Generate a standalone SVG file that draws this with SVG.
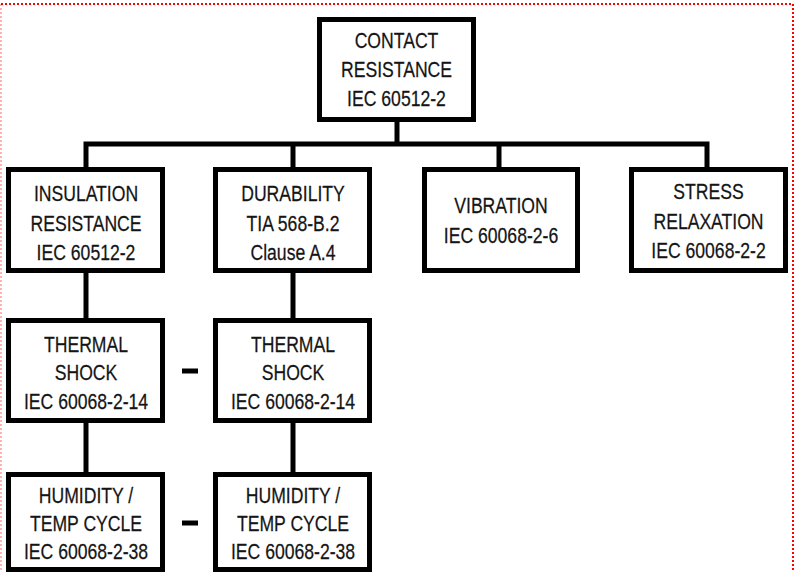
<svg xmlns="http://www.w3.org/2000/svg" width="800" height="572" viewBox="0 0 800 572">
<style>
.box{fill:#fff;stroke:#000;stroke-width:5}
.ln{stroke:#000;stroke-width:5;fill:none}
.t{font-family:"Liberation Sans",Arial,sans-serif;font-size:22px;fill:#151515;text-anchor:middle;stroke:#151515;stroke-width:0.25}
.frame{stroke:#ff0000;stroke-width:2;stroke-dasharray:2 2;fill:none}
</style>
<rect width="800" height="572" fill="#fff"/>
<g id="frame">
<line class="frame" x1="1" y1="4" x2="793" y2="4"/>
<line class="frame" x1="793" y1="4" x2="793" y2="572"/>
<line class="frame" x1="1" y1="4" x2="1" y2="572" stroke-opacity="0.3"/>
</g>
<g id="connectors">
<line class="ln" x1="397" y1="120" x2="397" y2="144"/>
<polyline class="ln" points="86,169 86,144 707,144 707,169"/>
<line class="ln" x1="293" y1="144" x2="293" y2="169"/>
<line class="ln" x1="499" y1="144" x2="499" y2="169"/>
<line class="ln" x1="86" y1="271" x2="86" y2="320"/>
<line class="ln" x1="293" y1="271" x2="293" y2="320"/>
<line class="ln" x1="86" y1="421" x2="86" y2="474"/>
<line class="ln" x1="293" y1="421" x2="293" y2="474"/>
<line class="ln" x1="182" y1="371" x2="198" y2="371"/>
<line class="ln" x1="182" y1="523" x2="198" y2="523"/>
</g>
<g id="contact">
<rect class="box" x="319.5" y="19.5" width="154" height="100"/>
<text class="t" transform="translate(396.5,48) scale(0.8,1)">CONTACT</text>
<text class="t" transform="translate(396.5,77) scale(0.8,1)">RESISTANCE</text>
<text class="t" transform="translate(396.5,106) scale(0.8,1)">IEC 60512-2</text>
</g>
<g id="insulation">
<rect class="box" x="8.5" y="169.5" width="154" height="101"/>
<text class="t" transform="translate(86,200.5) scale(0.8,1)">INSULATION</text>
<text class="t" transform="translate(86,231) scale(0.8,1)">RESISTANCE</text>
<text class="t" transform="translate(86,260) scale(0.8,1)">IEC 60512-2</text>
</g>
<g id="durability">
<rect class="box" x="215.5" y="169.5" width="154" height="101"/>
<text class="t" transform="translate(293,200.5) scale(0.8,1)">DURABILITY</text>
<text class="t" transform="translate(293,231) scale(0.8,1)">TIA 568-B.2</text>
<text class="t" transform="translate(293,260) scale(0.8,1)">Clause A.4</text>
</g>
<g id="vibration">
<rect class="box" x="424.5" y="169.5" width="153" height="101"/>
<text class="t" transform="translate(501,213) scale(0.8,1)">VIBRATION</text>
<text class="t" transform="translate(501,243) scale(0.8,1)">IEC 60068-2-6</text>
</g>
<g id="stress">
<rect class="box" x="631.5" y="169.5" width="154" height="101"/>
<text class="t" transform="translate(708.5,199) scale(0.8,1)">STRESS</text>
<text class="t" transform="translate(708.5,229) scale(0.8,1)">RELAXATION</text>
<text class="t" transform="translate(708.5,257.5) scale(0.8,1)">IEC 60068-2-2</text>
</g>
<g id="thermal1">
<rect class="box" x="8.5" y="320.5" width="154" height="100"/>
<text class="t" transform="translate(86,352) scale(0.8,1)">THERMAL</text>
<text class="t" transform="translate(86,380) scale(0.8,1)">SHOCK</text>
<text class="t" transform="translate(86,408.5) scale(0.8,1)">IEC 60068-2-14</text>
</g>
<g id="thermal2">
<rect class="box" x="215.5" y="320.5" width="154" height="100"/>
<text class="t" transform="translate(293,352) scale(0.8,1)">THERMAL</text>
<text class="t" transform="translate(293,380) scale(0.8,1)">SHOCK</text>
<text class="t" transform="translate(293,408.5) scale(0.8,1)">IEC 60068-2-14</text>
</g>
<g id="humidity1">
<rect class="box" x="8.5" y="474.5" width="154" height="95"/>
<text class="t" transform="translate(86,503) scale(0.8,1)">HUMIDITY /</text>
<text class="t" transform="translate(86,531) scale(0.8,1)">TEMP CYCLE</text>
<text class="t" transform="translate(86,559) scale(0.8,1)">IEC 60068-2-38</text>
</g>
<g id="humidity2">
<rect class="box" x="215.5" y="474.5" width="154" height="95"/>
<text class="t" transform="translate(293,503) scale(0.8,1)">HUMIDITY /</text>
<text class="t" transform="translate(293,531) scale(0.8,1)">TEMP CYCLE</text>
<text class="t" transform="translate(293,559) scale(0.8,1)">IEC 60068-2-38</text>
</g>
</svg>
